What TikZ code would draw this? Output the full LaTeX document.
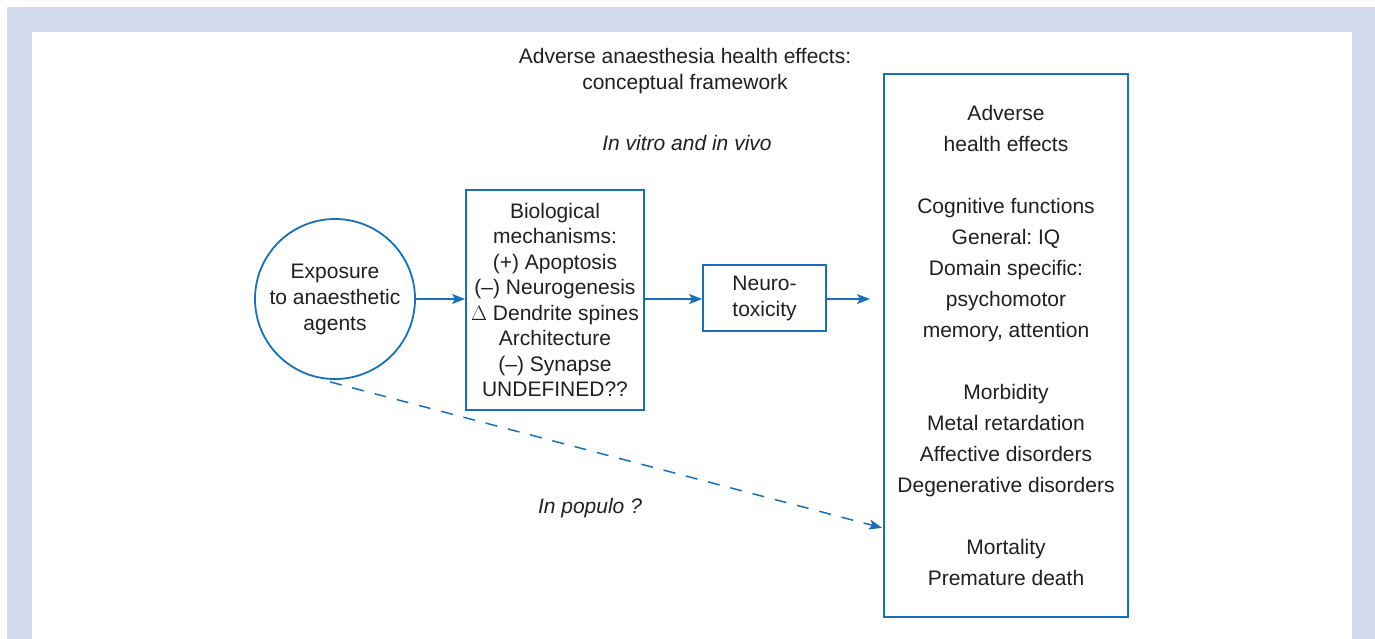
\documentclass[tikz,border=0pt]{standalone}
\usepackage{fontspec}
\setmainfont{Liberation Sans}
\frenchspacing
\usetikzlibrary{arrows.meta,calc}
\definecolor{lineblue}{RGB}{22,112,188}
\definecolor{framebg}{RGB}{211,220,238}
\definecolor{txt}{RGB}{35,31,32}
\tikzset{
  conn/.style={draw=lineblue,line width=1.8pt,-{Stealth[length=13pt,width=10pt,inset=3pt]}},
  boxed/.style={draw=lineblue,line width=1.8pt,rectangle,align=center,inner sep=0pt,text=txt,
    font=\fontsize{21}{25.5}\selectfont},
  lbl/.style={text=txt,align=center,inner sep=0pt,font=\fontsize{21}{26}\selectfont},
}
\begin{document}
\begin{tikzpicture}[x=1pt,y=-1pt]
\useasboundingbox (0,0) rectangle (1375,639);
\fill[framebg] (7,7) rectangle (1375,639);
\fill[white] (32,32) rectangle (1352,639);
\node[lbl] (title) at (685,71) {Adverse anaesthesia health effects:\\conceptual framework};
\node[lbl,font=\fontsize{21}{26}\selectfont\itshape] (vitro) at (687,143) {In vitro and in vivo};
\node[boxed,circle,minimum size=160pt,font=\fontsize{21}{26}\selectfont] (circ) at (335,299) {Exposure\\to anaesthetic\\agents};
\node[boxed,minimum width=178pt,minimum height=220pt] (bio) at (555,300) {Biological\\mechanisms:\\(+) Apoptosis\\(--) Neurogenesis\\$\Delta$ Dendrite spines\\Architecture\\(--) Synapse\\UNDEFINED??};
\node[boxed,minimum width=123pt,minimum height=66pt,font=\fontsize{21}{26}\selectfont] (neuro) at (764.5,298) {Neuro-\\toxicity};
\node[boxed,minimum width=244pt,minimum height=543pt,font=\fontsize{21}{31}\selectfont] (rb) at (1006,345.5) {Adverse\\health effects\\[31pt]Cognitive functions\\General: IQ\\Domain specific:\\psychomotor\\memory, attention\\[31pt]Morbidity\\Metal retardation\\Affective disorders\\Degenerative disorders\\[31pt]Mortality\\Premature death};
\coordinate (nend) at (870,299);
\node[lbl,font=\fontsize{21}{26}\selectfont\itshape] (populo) at (590,508) {In populo ?};
\draw[conn] (circ.east) -- (bio.west |- circ.east);
\draw[conn] (bio.east |- circ.east) -- (neuro.west |- circ.east);
\draw[conn] (neuro.east |- circ.east) -- (nend);
\draw[conn,line width=1.5pt,dash pattern=on 12pt off 11pt] ([xshift=-5pt,yshift=-2pt]circ.south) -- ([xshift=-1pt,yshift=90pt]rb.south west);
\end{tikzpicture}
\end{document}
